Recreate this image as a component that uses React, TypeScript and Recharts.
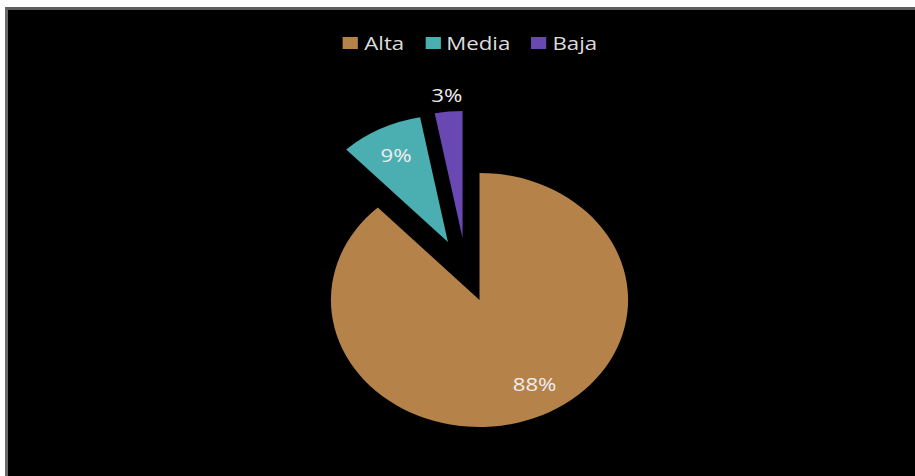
import React from "react";
import { PieChart, Pie, Cell, Legend, Sector } from "recharts";

const categories = ["Alta", "Media", "Baja"];
const values = [88, 9, 3];
const colors = ["#B5824A", "#4BAFB2", "#6A48B2"];

const data = categories.map((name, i) => ({ name, value: values[i] }));

// style: explode vectors (svg px) and label placement per slice
const explode: Record<string, { dx: number; dy: number }> = {
  Alta: { dx: 0, dy: 0 },
  Media: { dx: -27, dy: -58 },
  Baja: { dx: -14.5, dy: -62 },
};
const labelStyle: Record<string, { r: number; dx: number; dy: number }> = {
  Alta: { r: 0.75, dx: 12, dy: -5 },
  Media: { r: 0.77, dx: 0, dy: 0 },
  Baja: { r: 1.13, dx: 0, dy: 0 },
};

const SCALE_X = 1.17;
const FONT = "'Open Sans', 'Noto Sans', sans-serif";
const RAD = Math.PI / 180;

const renderShape = (props: any) => {
  const name = props.name ?? props.payload?.name;
  const e = explode[name] || { dx: 0, dy: 0 };
  return <Sector {...props} cx={props.cx + e.dx} cy={props.cy + e.dy} stroke="none" />;
};

const renderLabel = (props: any) => {
  const name = props.name ?? props.payload?.name;
  const e = explode[name] || { dx: 0, dy: 0 };
  const ls = labelStyle[name] || { r: 0.75, dx: 0, dy: 0 };
  const r = props.outerRadius * ls.r;
  const x = props.cx + e.dx + r * Math.cos(-props.midAngle * RAD) + ls.dx;
  const y = props.cy + e.dy + r * Math.sin(-props.midAngle * RAD) + ls.dy;
  return (
    <text
      x={x}
      y={y}
      fill="#eeeeee"
      textAnchor="middle"
      dominantBaseline="central"
      style={{ fontFamily: FONT, fontSize: 19 }}
    >
      {`${Math.round(props.percent * 100)}%`}
    </text>
  );
};

const renderLegend = (props: any) => {
  const payload = [...(props.payload || [])].sort(
    (a: any, b: any) => categories.indexOf(a.value) - categories.indexOf(b.value)
  );
  return (
    <div
      style={{
        display: "flex",
        justifyContent: "center",
        alignItems: "center",
        paddingLeft: 15,
        height: 22,
        fontFamily: FONT,
        fontSize: 19,
        color: "#dcdcdc",
        lineHeight: "22px",
      }}
    >
      {payload.map((p: any, i: number) => (
        <div key={i} style={{ display: "flex", alignItems: "center", marginLeft: i === 0 ? 0 : 18 }}>
          <div style={{ width: 13, height: 12, background: p.color, marginRight: 5 }} />
          <span>{p.value}</span>
        </div>
      ))}
    </div>
  );
};

export default function App() {
  return (
    <div
      style={{
        position: "fixed",
        left: 0,
        top: 0,
        width: 915,
        height: 476,
        background: "#ffffff",
        overflow: "hidden",
      }}
    >
      <div
        style={{
          position: "absolute",
          left: 5,
          top: 7,
          width: 930,
          height: 490,
          background: "#000000",
          borderTop: "3px solid #5e5e5e",
          borderLeft: "3px solid #6a6a6a",
          boxSizing: "border-box",
        }}
      >
        <div
          style={{
            position: "absolute",
            left: 0,
            top: 0,
            width: 775,
            height: 466,
            transform: `scaleX(${SCALE_X})`,
            transformOrigin: "0 0",
          }}
        >
          <PieChart width={775} height={466} margin={{ top: 0, right: 0, bottom: 0, left: 0 }}>
            <Legend
              verticalAlign="middle"
              align="center"
              content={renderLegend}
              wrapperStyle={{ left: 0, top: 22, width: 775 }}
            />
            <Pie
              data={data}
              dataKey="value"
              nameKey="name"
              cx={403}
              cy={290}
              outerRadius={127}
              startAngle={90}
              endAngle={-270}
              stroke="none"
              isAnimationActive={false}
              labelLine={false}
              label={renderLabel}
              shape={renderShape}
            >
              {data.map((d, i) => (
                <Cell key={d.name} fill={colors[i]} />
              ))}
            </Pie>
          </PieChart>
        </div>
      </div>
    </div>
  );
}
